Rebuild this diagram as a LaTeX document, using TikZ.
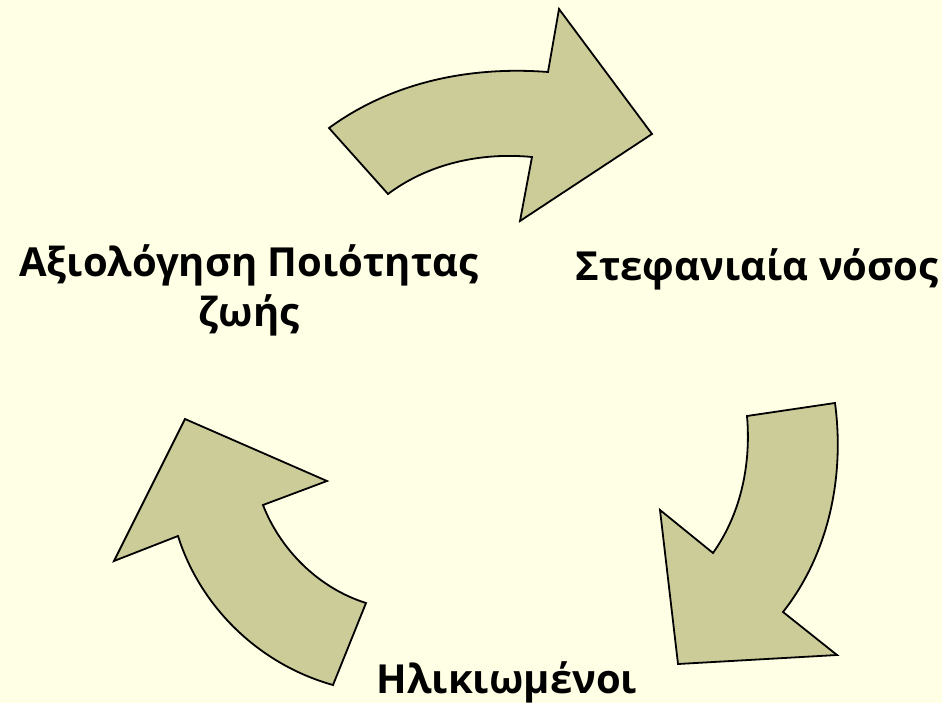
\documentclass[tikz,border=0pt]{standalone}
\usepackage{fontspec}
\setmainfont{Open Sans}
\usepackage{tikz}
\usetikzlibrary{positioning}
\definecolor{bgcol}{RGB}{255,255,229}
\definecolor{arrowcol}{RGB}{204,204,153}
\tikzset{
  cyclearrow/.style={fill=arrowcol,draw=black,line width=1.8pt,line join=miter},
  stagetext/.style={font=\fontsize{40}{50}\selectfont\bfseries,inner sep=0pt,align=center}
}

\begin{document}
\begin{tikzpicture}[x=1pt,y=-1pt]
  \fill[bgcol] (0,0) rectangle (942,703);
  \useasboundingbox (0,0) rectangle (942,703);
  % top arrow, pointing right
  \draw[cyclearrow] (329,128) -- (388,194)
     .. controls (428,164) and (480,152) .. (532,157)
     -- (520,221) -- (652,134) -- (559,9) -- (548,72)
     .. controls (470,66) and (392,82) .. (329,128) -- cycle;
  % right arrow, pointing down
  \draw[cyclearrow] (747,416) -- (835,403)
     .. controls (845,478) and (828,555) .. (783,612)
     -- (837,655) -- (678,664) -- (660,510) -- (713,553)
     .. controls (742,512) and (751,462) .. (747,416) -- cycle;
  % left arrow, pointing up
  \draw[cyclearrow] (185,419) -- (327,481) -- (263,505)
     .. controls (280,549) and (318,588) .. (366,603)
     -- (333,685)
     .. controls (258,664) and (200,606) .. (178,536)
     -- (114,561) -- cycle;
  % the three stages
  \node[stagetext,anchor=base] (disease) at (757,280) {Στεφανιαία νόσος};
  \node[stagetext,anchor=base] (elderly) at (507,693) {Ηλικιωμένοι};
  % base of a two-line node sits on its last line
  \node[stagetext,anchor=base] (quality) at (249,326) {Αξιολόγηση Ποιότητας\\ζωής};
\end{tikzpicture}
\end{document}
